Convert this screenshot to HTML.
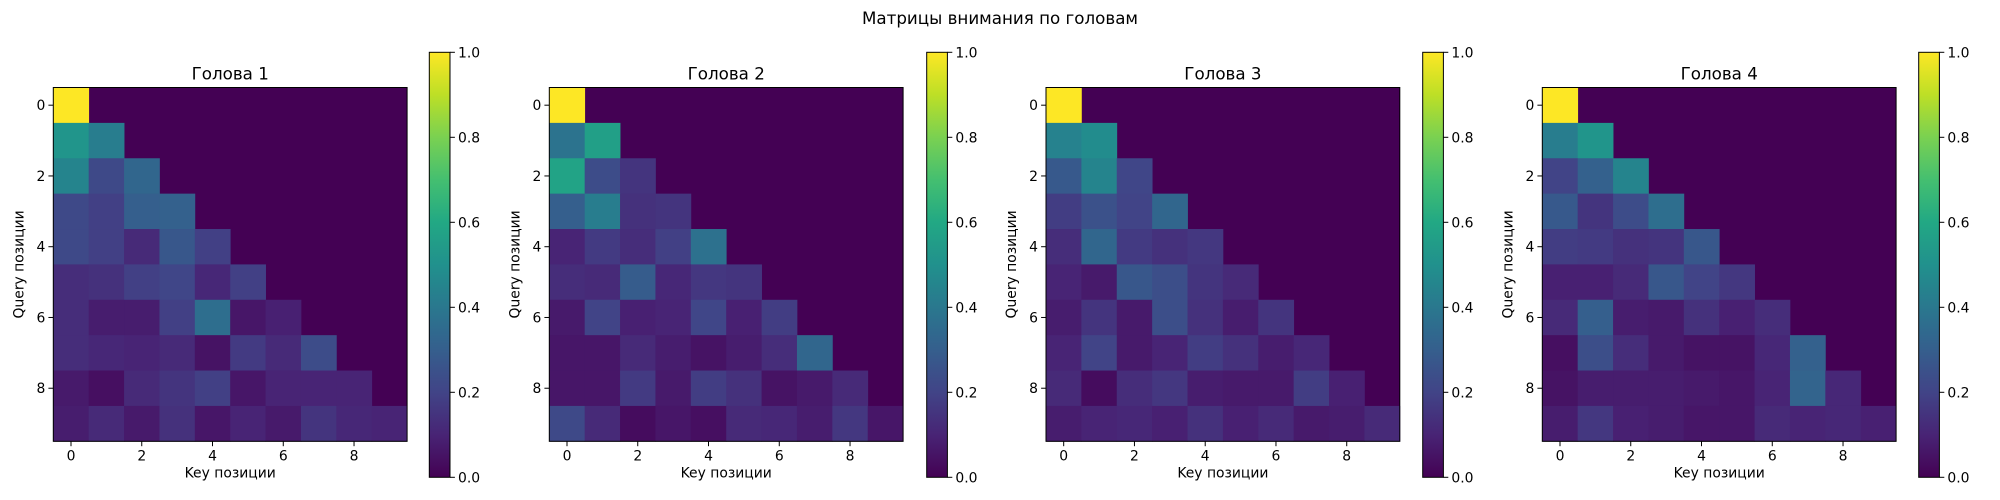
<!DOCTYPE html>
<html><head><meta charset="utf-8">
<style>html,body{margin:0;padding:0;background:#fff;}svg{display:block;}text{font-family:"DejaVu Sans","Liberation Sans",sans-serif;fill:#000;}</style>
</head><body>
<svg id="s" width="2000" height="500" xmlns="http://www.w3.org/2000/svg">
<text x="1000" y="24" font-size="16.7" text-anchor="middle">Матрицы внимания по головам</text>
</svg>
<script>
const V=[[0.267,0.005,0.329],[0.283,0.141,0.458],[0.254,0.265,0.530],[0.207,0.372,0.553],[0.164,0.471,0.558],[0.128,0.567,0.551],[0.135,0.659,0.518],[0.267,0.749,0.441],[0.478,0.821,0.318],[0.741,0.873,0.150],[0.993,0.906,0.144]];
function col(v){v=Math.max(0,Math.min(1,v));const f=v*10,i=Math.min(9,Math.floor(f)),t=f-i;const a=V[i],b=V[i+1];return 'rgb('+[0,1,2].map(k=>Math.round(255*(a[k]+(b[k]-a[k])*t))).join(',')+')';}
const H=[
[[1],[.52,.42],[.45,.22,.33],[.22,.19,.30,.31],[.22,.19,.12,.27,.19],[.13,.14,.19,.21,.11,.19],[.13,.08,.08,.19,.36,.06,.09],[.13,.11,.10,.12,.05,.17,.12,.23],[.07,.04,.12,.15,.19,.06,.10,.10,.10],[.08,.12,.07,.14,.06,.10,.07,.15,.11,.10]],
[[1],[.38,.56],[.58,.23,.15],[.30,.42,.14,.15],[.10,.17,.13,.19,.37],[.13,.12,.29,.11,.16,.15],[.07,.20,.09,.10,.21,.09,.18],[.06,.06,.12,.08,.05,.08,.13,.33],[.06,.06,.17,.07,.18,.14,.05,.07,.12],[.22,.12,.03,.06,.04,.12,.11,.08,.16,.06]],
[[1],[.44,.48],[.28,.45,.21],[.18,.25,.20,.33],[.13,.33,.17,.14,.16],[.10,.07,.27,.24,.15,.12],[.08,.15,.07,.24,.14,.08,.15],[.10,.20,.07,.10,.18,.14,.08,.11],[.12,.03,.13,.16,.08,.07,.07,.18,.09],[.08,.10,.11,.09,.14,.09,.12,.07,.08,.12]],
[[1],[.42,.52],[.20,.31,.45],[.28,.15,.23,.36],[.18,.17,.14,.15,.27],[.09,.09,.12,.27,.20,.16],[.12,.30,.08,.07,.14,.09,.13],[.04,.24,.13,.07,.05,.05,.11,.31],[.05,.08,.08,.08,.07,.06,.10,.32,.11],[.08,.16,.09,.08,.06,.06,.12,.10,.11,.09]]];
const AX=[53.3,549.3,1046,1542.3],CB=[429.3,926.7,1422.7,1918.7];
const Y0=87.5,S=353.8,c=S/10,CY0=52.3,CY1=477.3,CW=20.7;
let o='<defs><linearGradient id="g" x1="0" y1="1" x2="0" y2="0">';
for(let i=0;i<=20;i++)o+='<stop offset="'+(i/20)+'" stop-color="'+col(i/20)+'"/>';
o+='</linearGradient></defs>';
for(let h=0;h<4;h++){const x0=AX[h];
 o+='<rect x="'+x0+'" y="'+Y0+'" width="'+S+'" height="'+S+'" fill="'+col(0)+'"/>';
 for(let r=0;r<10;r++)for(let k=0;k<H[h][r].length;k++)o+='<rect x="'+(x0+k*c)+'" y="'+(Y0+r*c)+'" width="'+(c+0.4)+'" height="'+(c+0.4)+'" fill="'+col(H[h][r][k])+'"/>';
 o+='<rect x="'+x0+'" y="'+Y0+'" width="'+S+'" height="'+S+'" fill="none" stroke="#000" stroke-width="1"/>';
 for(let t=0;t<10;t+=2){const p=x0+(t+.5)*c,q=Y0+(t+.5)*c;
  o+='<line x1="'+p+'" y1="'+(Y0+S)+'" x2="'+p+'" y2="'+(Y0+S+4.9)+'" stroke="#000"/>';
  o+='<text x="'+p+'" y="'+(Y0+S+19)+'" font-size="13.9" text-anchor="middle">'+t+'</text>';
  o+='<line x1="'+x0+'" y1="'+q+'" x2="'+(x0-4.9)+'" y2="'+q+'" stroke="#000"/>';
  o+='<text x="'+(x0-8)+'" y="'+(q+5)+'" font-size="13.9" text-anchor="end">'+t+'</text>';}
 o+='<text x="'+(x0+S/2)+'" y="'+(Y0+S+36)+'" font-size="13.9" text-anchor="middle">Key позиции</text>';
 o+='<text transform="translate('+(x0-30)+','+(Y0+S/2)+') rotate(-90)" font-size="13.9" text-anchor="middle">Query позиции</text>';
 o+='<text x="'+(x0+S/2)+'" y="'+(Y0-8)+'" font-size="16.7" text-anchor="middle">Голова '+(h+1)+'</text>';
 const cx=CB[h];
 o+='<rect x="'+cx+'" y="'+CY0+'" width="'+CW+'" height="'+(CY1-CY0)+'" fill="url(#g)" stroke="#000" stroke-width="1"/>';
 for(let i=0;i<=5;i++){const v=i/5,y=CY1-v*(CY1-CY0);
  o+='<line x1="'+(cx+CW)+'" y1="'+y+'" x2="'+(cx+CW+4.9)+'" y2="'+y+'" stroke="#000"/>';
  o+='<text x="'+(cx+CW+8)+'" y="'+(y+5)+'" font-size="13.9">'+v.toFixed(1)+'</text>';}
}
document.getElementById('s').insertAdjacentHTML('beforeend',o);
</script>
</body></html>
